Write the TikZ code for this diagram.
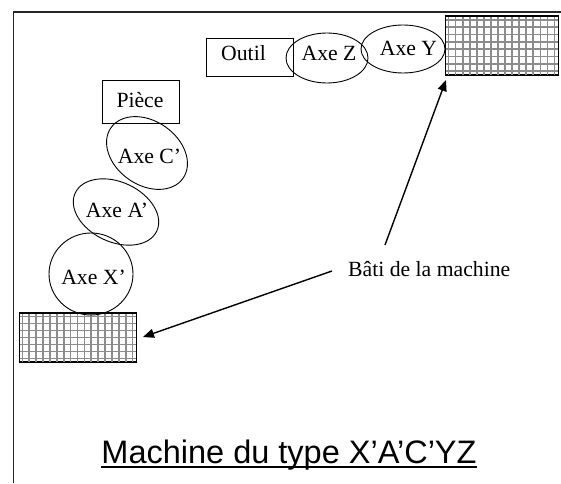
\documentclass[tikz,border=0pt]{standalone}
\usepackage{fontspec}
\setmainfont{Liberation Serif}
\newfontfamily\titlefont{Liberation Sans}
\usetikzlibrary{arrows.meta}

\tikzset{
  lbl/.style={font=\fontsize{21.7}{26}\selectfont, inner sep=0pt, anchor=base},
  plainbox/.style={draw, line width=0.9pt, inner sep=0pt},
  ell/.style={draw, line width=0.9pt},
  frameline/.style={line width=1.6pt, draw=black!85},
  callout/.style={line width=1.4pt, -{Triangle[length=11pt,width=9pt]}},
  gridline/.style={draw=black!45, line width=1.7pt},
}

% hatched frame block: #1 = name, (#2,#3) lower left, #4 width, #5 height, #6 columns, #7 rows
\newcommand{\framebloc}[7]{%
  \node[plainbox, minimum width=#4pt, minimum height=#5pt, anchor=south west] (#1) at (#2,#3) {};
  \begin{scope}
    \clip (#2,#3) rectangle ++(#4,#5);
    \foreach \i in {1,...,#6}{
      \draw[gridline] ({#2+\i*#4/#6-#4/(2*#6)},#3) -- ++(0,#5);
    }
    \foreach \j in {1,...,#7}{
      \draw[gridline] (#2,{#3+\j*#5/#7-#5/(2*#7)}) -- ++(#4,0);
    }
  \end{scope}
  \draw[line width=0.9pt] (#2,#3) rectangle ++(#4,#5);
}

\begin{document}
\begin{tikzpicture}[x=1pt,y=1pt]
\useasboundingbox (0,0) rectangle (561,483);

% page frame (top and left edges)
\coordinate (ftl) at (13.5,471);
\coordinate (ftr) at (561,471);
\coordinate (fbl) at (13.5,0);
\draw[frameline] (ftr) -- (ftl) -- (fbl);

% frame blocks
\framebloc{batiH}{445}{408}{113}{59}{16}{8}
\framebloc{batiB}{19}{121}{117}{49}{17}{7}

% tool side
\node[plainbox, minimum width=87pt, minimum height=38pt] (outilbox) at (249.5,426) {};
\node[lbl] (outil) at (243.5,422) {Outil};

\coordinate (cz) at (327,425);
\draw[ell] (cz) ellipse [x radius=41pt, y radius=25pt];
\node[lbl] (axez) at (329,422) {Axe Z};

\coordinate (cy) at (403,434);
\draw[ell] (cy) ellipse [x radius=42pt, y radius=24pt];
\node[lbl] (axey) at (408.5,427) {Axe Y};

% part side
\node[plainbox, minimum width=77pt, minimum height=43pt] (piecebox) at (140.5,381.5) {};
\node[lbl] (piece) at (140,376) {Pièce};

\coordinate (cc) at (147,330);
\draw[ell, rotate around={-35:(cc)}] (cc) ellipse [x radius=44pt, y radius=32pt];
\node[lbl] (axec) at (149.5,320) {Axe C’};

\coordinate (ca) at (116,271);
\draw[ell, rotate around={-25:(ca)}] (ca) ellipse [x radius=45pt, y radius=30pt];
\node[lbl] (axea) at (117,266) {Axe A’};

\coordinate (cx) at (91,209);
\draw[ell] (cx) ellipse [x radius=42pt, y radius=41pt];
\node[lbl] (axex) at (93.5,199) {Axe X’};

% callout
\node[lbl, anchor=base west] (bati) at (348,207) {Bâti de la machine};
\coordinate (s1) at (385,238);
\coordinate (t1) at (446,403);
\coordinate (s2) at (332,212);
\coordinate (t2) at (143,146);
\draw[callout] (s1) -- (t1);
\draw[callout] (s2) -- (t2);

% title
\node[font=\titlefont\fontsize{32.5}{39}\selectfont, inner sep=0pt, anchor=base] (title) at (289,20) {Machine du type X’A’C’YZ};
\draw[line width=1.8pt] ([yshift=-4pt]title.base west) -- ([yshift=-4pt]title.base east);
\end{tikzpicture}
\end{document}
